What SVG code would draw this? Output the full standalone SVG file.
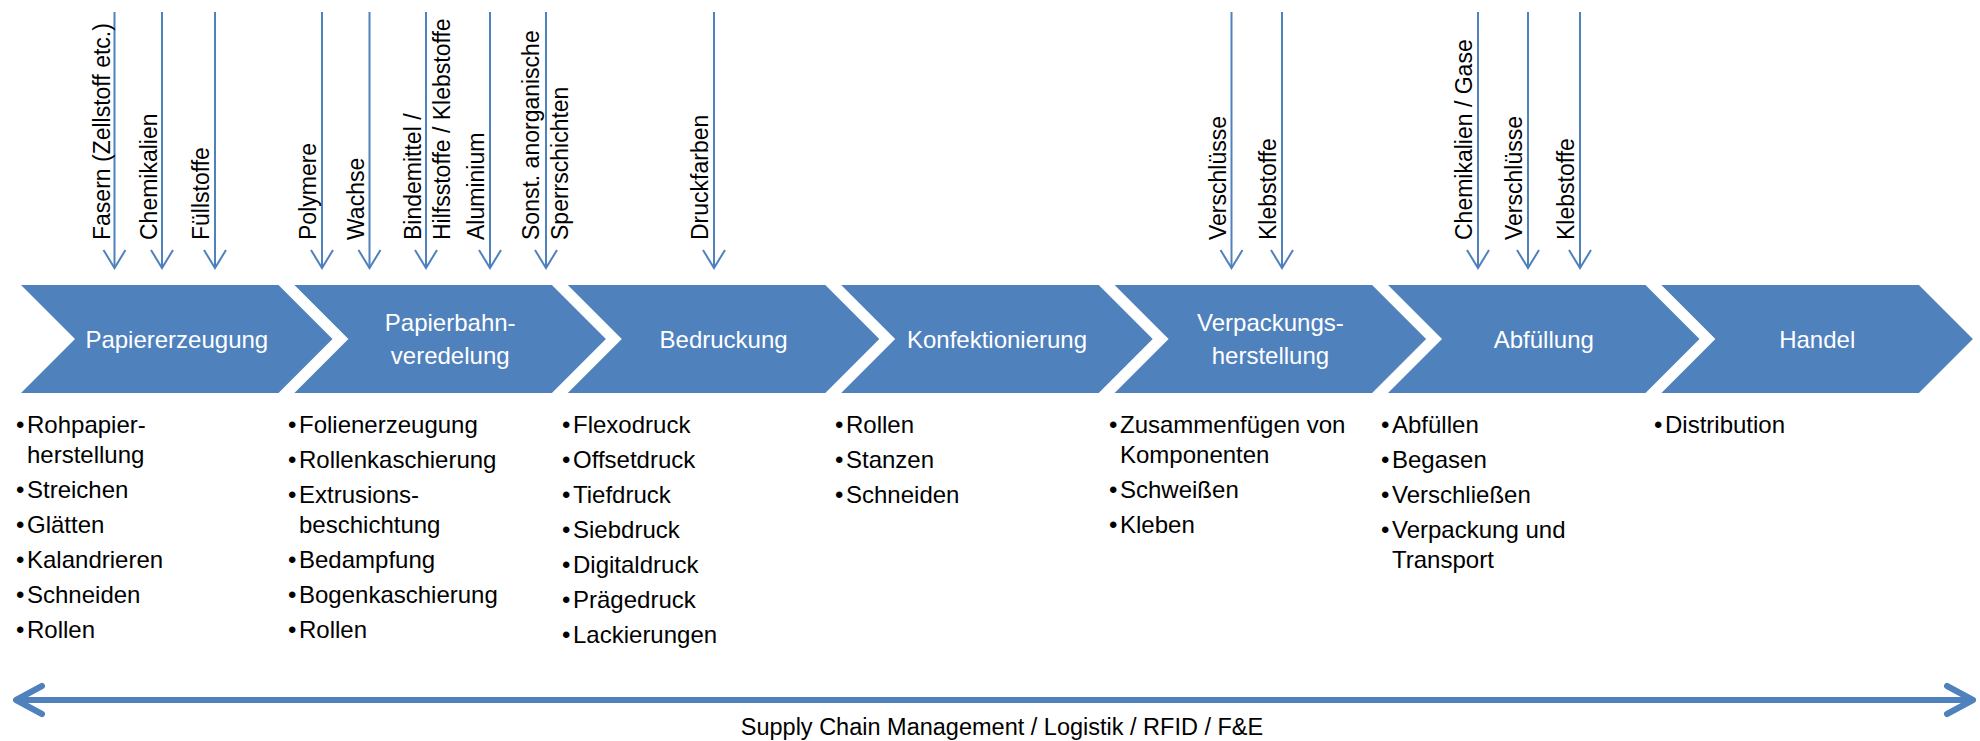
<svg xmlns="http://www.w3.org/2000/svg" xmlns:xlink="http://www.w3.org/1999/xlink" width="1980" height="741" viewBox="0 0 1980 741">
  <style>
    text { font-family: "Liberation Sans", Arial, sans-serif; }
    .chev { fill: #4F81BD; }
    .lbl { font-size: 24px; fill: #FFFFFF; text-anchor: middle; }
    .inp { font-size: 23px; fill: #000000; }
    .item { font-size: 24px; fill: #000000; }
    .feed { stroke: #4F81BD; stroke-width: 2; fill: none; marker-end: url(#feedHead); }
    .chain { stroke: #4F81BD; stroke-width: 6; fill: none; marker-start: url(#chainHead); marker-end: url(#chainHead); }
    .foot { font-size: 23.5px; fill: #000000; text-anchor: middle; }
  </style>
  <defs>
    <polygon id="chevShape" points="0,285 257.5,285 311.5,339 257.5,393 0,393 54,339"/>
    <marker id="feedHead" markerUnits="userSpaceOnUse" viewBox="-20 -13 24 26" refX="0" refY="0" markerWidth="24" markerHeight="26" orient="auto">
      <path d="M-18,-11 L0,0 L-18,11" fill="none" stroke="#4F81BD" stroke-width="2"/>
    </marker>
    <marker id="chainHead" markerUnits="userSpaceOnUse" viewBox="-32 -18 36 36" refX="0" refY="0" markerWidth="36" markerHeight="36" orient="auto-start-reverse">
      <path d="M-26,-14 L0,0 L-26,14" fill="none" stroke="#4F81BD" stroke-width="6" stroke-linejoin="round" stroke-linecap="round"/>
    </marker>
  </defs>

  <!-- process chain -->
  <g id="papiererzeugung">
    <use xlink:href="#chevShape" class="chev" x="21"/>
    <text class="lbl" x="176.8" y="347.5">Papiererzeugung</text>
  </g>
  <g id="papierbahnveredelung">
    <use xlink:href="#chevShape" class="chev" x="294.4"/>
    <text class="lbl" x="450.2" y="331">Papierbahn-</text>
    <text class="lbl" x="450.2" y="364">veredelung</text>
  </g>
  <g id="bedruckung">
    <use xlink:href="#chevShape" class="chev" x="567.8"/>
    <text class="lbl" x="723.6" y="347.5">Bedruckung</text>
  </g>
  <g id="konfektionierung">
    <use xlink:href="#chevShape" class="chev" x="841.2"/>
    <text class="lbl" x="997" y="347.5">Konfektionierung</text>
  </g>
  <g id="verpackungsherstellung">
    <use xlink:href="#chevShape" class="chev" x="1114.6"/>
    <text class="lbl" x="1270.4" y="331">Verpackungs-</text>
    <text class="lbl" x="1270.4" y="364">herstellung</text>
  </g>
  <g id="abfuellung">
    <use xlink:href="#chevShape" class="chev" x="1388"/>
    <text class="lbl" x="1543.8" y="347.5">Abfüllung</text>
  </g>
  <g id="handel">
    <use xlink:href="#chevShape" class="chev" x="1661.4"/>
    <text class="lbl" x="1817.2" y="347.5">Handel</text>
  </g>

  <!-- material inputs and supply chain band -->
  <g id="connectors">
    <line class="feed" x1="114.5" y1="12" x2="114.5" y2="268"/>
    <line class="feed" x1="162" y1="12" x2="162" y2="268"/>
    <line class="feed" x1="215" y1="12" x2="215" y2="268"/>
    <line class="feed" x1="322" y1="12" x2="322" y2="268"/>
    <line class="feed" x1="369.5" y1="12" x2="369.5" y2="268"/>
    <line class="feed" x1="426" y1="12" x2="426" y2="268"/>
    <line class="feed" x1="490" y1="12" x2="490" y2="268"/>
    <line class="feed" x1="546" y1="12" x2="546" y2="268"/>
    <line class="feed" x1="714" y1="12" x2="714" y2="268"/>
    <line class="feed" x1="1231.5" y1="12" x2="1231.5" y2="268"/>
    <line class="feed" x1="1282" y1="12" x2="1282" y2="268"/>
    <line class="feed" x1="1478" y1="12" x2="1478" y2="268"/>
    <line class="feed" x1="1528" y1="12" x2="1528" y2="268"/>
    <line class="feed" x1="1580" y1="12" x2="1580" y2="268"/>
    <line class="chain" x1="16" y1="700" x2="1973" y2="700"/>
  </g>

  <!-- input labels, reading upwards -->
  <g id="input-labels">
    <text class="inp" transform="translate(109.5,240) rotate(-90)">Fasern (Zellstoff etc.)</text>
    <text class="inp" transform="translate(156.5,240) rotate(-90)">Chemikalien</text>
    <text class="inp" transform="translate(209,240) rotate(-90)">Füllstoffe</text>
    <text class="inp" transform="translate(316,240) rotate(-90)">Polymere</text>
    <text class="inp" transform="translate(363.5,240) rotate(-90)">Wachse</text>
    <text class="inp" transform="translate(421,240) rotate(-90)">Bindemittel /</text>
    <text class="inp" transform="translate(450,240) rotate(-90)">Hilfsstoffe / Klebstoffe</text>
    <text class="inp" transform="translate(484,240) rotate(-90)">Aluminium</text>
    <text class="inp" transform="translate(539,240) rotate(-90)">Sonst. anorganische</text>
    <text class="inp" transform="translate(568,240) rotate(-90)">Sperrschichten</text>
    <text class="inp" transform="translate(708,240) rotate(-90)">Druckfarben</text>
    <text class="inp" transform="translate(1225.5,240) rotate(-90)">Verschlüsse</text>
    <text class="inp" transform="translate(1276,240) rotate(-90)">Klebstoffe</text>
    <text class="inp" transform="translate(1472,240) rotate(-90)">Chemikalien / Gase</text>
    <text class="inp" transform="translate(1522,240) rotate(-90)">Verschlüsse</text>
    <text class="inp" transform="translate(1574,240) rotate(-90)">Klebstoffe</text>
  </g>

  <!-- process steps per stage -->
  <g id="steps-papiererzeugung" class="item">
    <text y="433"><tspan x="16">•</tspan><tspan x="27">Rohpapier-</tspan></text>
    <text x="27" y="463">herstellung</text>
    <text y="498"><tspan x="16">•</tspan><tspan x="27">Streichen</tspan></text>
    <text y="533"><tspan x="16">•</tspan><tspan x="27">Glätten</tspan></text>
    <text y="568"><tspan x="16">•</tspan><tspan x="27">Kalandrieren</tspan></text>
    <text y="603"><tspan x="16">•</tspan><tspan x="27">Schneiden</tspan></text>
    <text y="638"><tspan x="16">•</tspan><tspan x="27">Rollen</tspan></text>
  </g>
  <g id="steps-veredelung" class="item">
    <text y="433"><tspan x="288">•</tspan><tspan x="299">Folienerzeugung</tspan></text>
    <text y="468"><tspan x="288">•</tspan><tspan x="299">Rollenkaschierung</tspan></text>
    <text y="503"><tspan x="288">•</tspan><tspan x="299">Extrusions-</tspan></text>
    <text x="299" y="533">beschichtung</text>
    <text y="568"><tspan x="288">•</tspan><tspan x="299">Bedampfung</tspan></text>
    <text y="603"><tspan x="288">•</tspan><tspan x="299">Bogenkaschierung</tspan></text>
    <text y="638"><tspan x="288">•</tspan><tspan x="299">Rollen</tspan></text>
  </g>
  <g id="steps-bedruckung" class="item">
    <text y="433"><tspan x="562">•</tspan><tspan x="573">Flexodruck</tspan></text>
    <text y="468"><tspan x="562">•</tspan><tspan x="573">Offsetdruck</tspan></text>
    <text y="503"><tspan x="562">•</tspan><tspan x="573">Tiefdruck</tspan></text>
    <text y="538"><tspan x="562">•</tspan><tspan x="573">Siebdruck</tspan></text>
    <text y="573"><tspan x="562">•</tspan><tspan x="573">Digitaldruck</tspan></text>
    <text y="608"><tspan x="562">•</tspan><tspan x="573">Prägedruck</tspan></text>
    <text y="643"><tspan x="562">•</tspan><tspan x="573">Lackierungen</tspan></text>
  </g>
  <g id="steps-konfektionierung" class="item">
    <text y="433"><tspan x="835">•</tspan><tspan x="846">Rollen</tspan></text>
    <text y="468"><tspan x="835">•</tspan><tspan x="846">Stanzen</tspan></text>
    <text y="503"><tspan x="835">•</tspan><tspan x="846">Schneiden</tspan></text>
  </g>
  <g id="steps-verpackung" class="item">
    <text y="433"><tspan x="1109">•</tspan><tspan x="1120">Zusammenfügen von</tspan></text>
    <text x="1120" y="463">Komponenten</text>
    <text y="498"><tspan x="1109">•</tspan><tspan x="1120">Schweißen</tspan></text>
    <text y="533"><tspan x="1109">•</tspan><tspan x="1120">Kleben</tspan></text>
  </g>
  <g id="steps-abfuellung" class="item">
    <text y="433"><tspan x="1381">•</tspan><tspan x="1392">Abfüllen</tspan></text>
    <text y="468"><tspan x="1381">•</tspan><tspan x="1392">Begasen</tspan></text>
    <text y="503"><tspan x="1381">•</tspan><tspan x="1392">Verschließen</tspan></text>
    <text y="538"><tspan x="1381">•</tspan><tspan x="1392">Verpackung und</tspan></text>
    <text x="1392" y="568">Transport</text>
  </g>
  <g id="steps-handel" class="item">
    <text y="433"><tspan x="1654">•</tspan><tspan x="1665">Distribution</tspan></text>
  </g>

  <text id="supply-chain-label" class="foot" x="1002" y="735">Supply Chain Management / Logistik / RFID / F&amp;E</text>
</svg>
